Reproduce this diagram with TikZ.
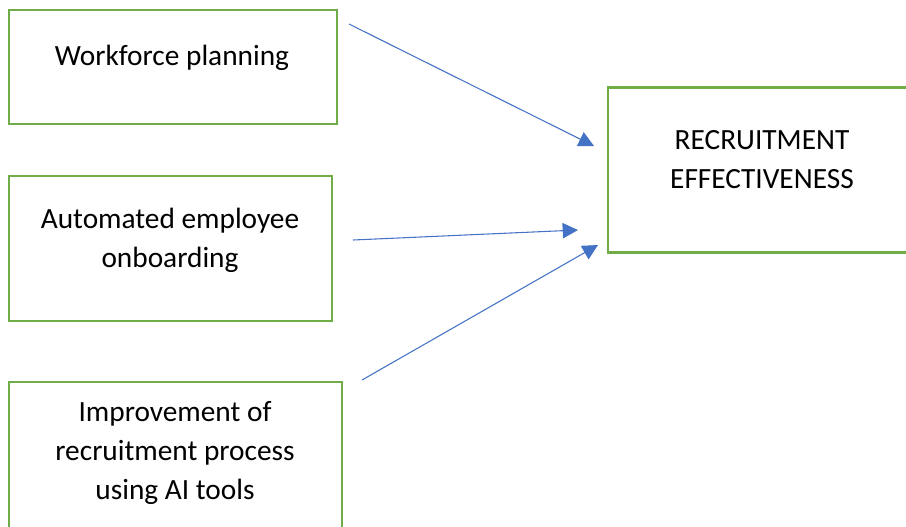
\documentclass[tikz,border=0pt]{standalone}
\usepackage{fontspec}
\setmainfont{Carlito}
\usetikzlibrary{arrows.meta}

\definecolor{boxgreen}{HTML}{70AD47}
\definecolor{arrowblue}{HTML}{4472C4}

\begin{document}
\begin{tikzpicture}[x=0.75pt,y=-0.75pt,
  box node/.style={rectangle,draw=boxgreen,line width=1.6pt,inner sep=0pt},
  label node/.style={inner sep=0pt,anchor=base,align=center,
    font=\fontsize{22}{29}\selectfont},
  link/.style={draw=arrowblue,line width=0.8pt,
    -{Triangle[length=11.5pt,width=11.5pt]}}]

  \useasboundingbox (0,0) rectangle (906,526);
  \clip (0,0) rectangle (906,526);

  \node[box node,minimum width=328*0.75pt,minimum height=114*0.75pt] (wfp) at (173,67) {};
  \node[box node,minimum width=323*0.75pt,minimum height=145*0.75pt] (onb) at (170.5,248.5) {};
  \node[box node,minimum width=333*0.75pt,minimum height=160*0.75pt] (ai) at (175.5,462) {};
  \node[box node,minimum width=308*0.75pt,minimum height=165*0.75pt] (eff) at (762,170) {};

  \node[label node] (wfp text) at (172,65) {Workforce planning};
  \node[label node] (onb text) at (170,267) {Automated employee\\onboarding};
  \node[label node] (ai text) at (175,499) {Improvement of\\recruitment process\\using AI tools};
  \node[label node] (eff text) at (762,188) {RECRUITMENT\\EFFECTIVENESS};

  \coordinate (wfp out) at (349,24);
  \coordinate (onb out) at (353,240);
  \coordinate (ai out) at (362,380);
  \coordinate (eff in1) at (594,146);
  \coordinate (eff in2) at (578,230);
  \coordinate (eff in3) at (598,245);

  \path[link] (wfp out) -- (eff in1);
  \path[link] (onb out) -- (eff in2);
  \path[link] (ai out) -- (eff in3);
\end{tikzpicture}
\end{document}
